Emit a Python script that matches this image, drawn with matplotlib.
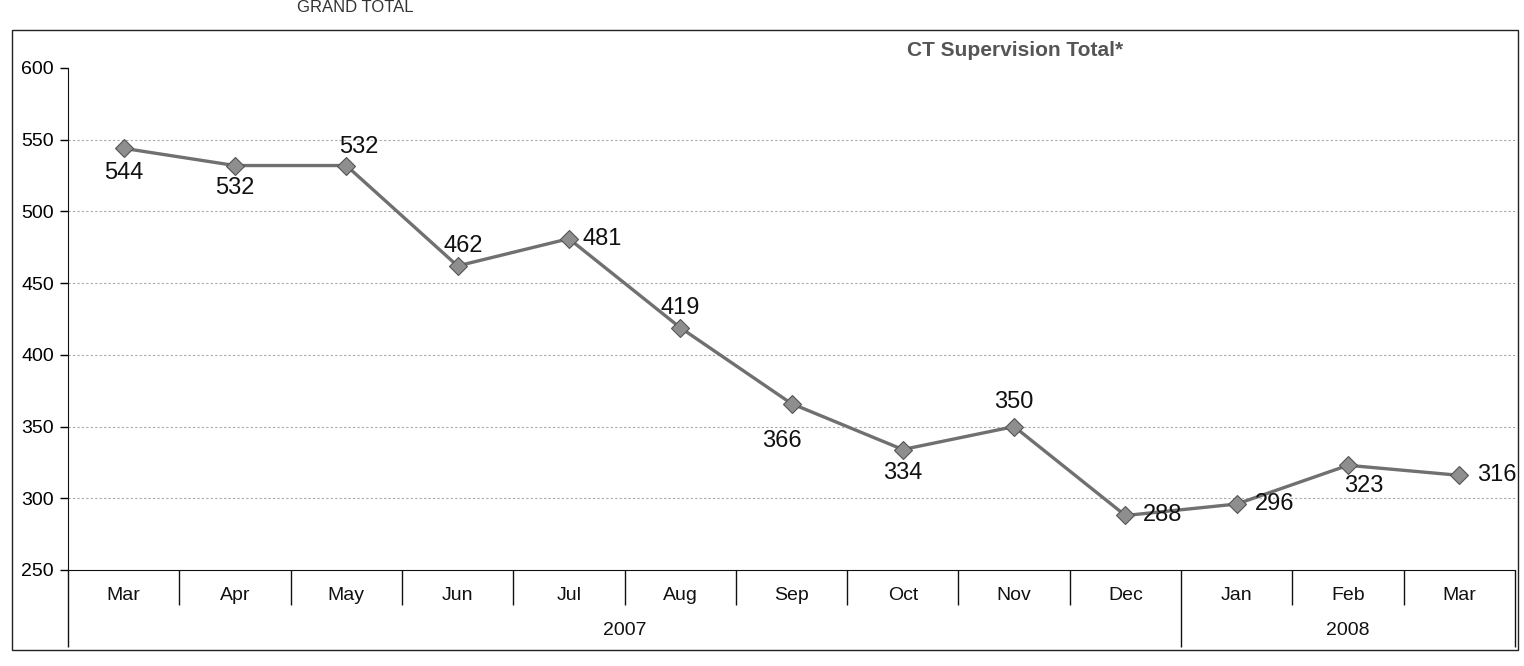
"""CT Supervision Total* -- monthly line chart, Mar 2007 to Mar 2008 (Excel-style two-level axis)."""

import matplotlib
matplotlib.use("Agg")
import matplotlib.pyplot as plt
from matplotlib.patches import Rectangle

plt.rcParams["font.family"] = ["Liberation Sans", "DejaVu Sans"]

# data
months = ["Mar", "Apr", "May", "Jun", "Jul", "Aug", "Sep", "Oct", "Nov", "Dec", "Jan", "Feb", "Mar"]
years = ["2007"] * 10 + ["2008"] * 3
totals = [544, 532, 532, 462, 481, 419, 366, 334, 350, 288, 296, 323, 316]
y_ticks = [250, 300, 350, 400, 450, 500, 550, 600]

# label offsets (points) so the numbers sit where the original put them
label_off = [(0, -18), (0, -16), (9, 13), (4, 14), (24, 0), (0, 14), (-7, -27),
             (0, -17), (0, 18), (27, 0), (27, 0), (11, -15), (27, 0)]

W, H = 1524, 666
fig = plt.figure(figsize=(W / 100, H / 100), dpi=100)
fig.patch.set_facecolor("white")

# outer chart border
fig.add_artist(Rectangle((12 / W, 1 - 650 / H), (1518 - 12) / W, (650 - 30) / H,
                         transform=fig.transFigure, fill=False, lw=1.0, ec="#222222"))
# page heading, cut off at the top of the scan in the original
fig.text(355 / W, 1.0, "GRAND TOTAL", ha="center", va="top", fontsize=12, color="#333333")

left, right, top, bottom = 68, 1515, 68, 570
ax = fig.add_axes([left / W, 1 - bottom / H, (right - left) / W, (bottom - top) / H])

x = list(range(len(months)))
ax.plot(x, totals, color="#707070", lw=2.4, marker="D", ms=9,
        mfc="#8e8e8e", mec="#555555", mew=0.8, zorder=3)
for xi, v, (dx, dy) in zip(x, totals, label_off):
    ax.annotate(str(v), (xi, v), xytext=(dx, dy), textcoords="offset points",
                ha="center", va="center", fontsize=17, color="#111111")

ax.set_xlim(-0.5, len(months) - 0.5)
ax.set_ylim(250, 600)
ax.set_yticks(y_ticks)
ax.tick_params(axis="y", labelsize=14, length=6, width=1, direction="out", pad=4)
for yt in y_ticks[1:-1]:
    ax.axhline(yt, color="#a8a8a8", lw=0.8, ls=(0, (2, 2)), zorder=1)

for s in ["top", "right"]:
    ax.spines[s].set_visible(False)
ax.spines["left"].set_color("#111111")
ax.spines["bottom"].set_color("#111111")

# two-level category axis drawn below the plot area
ax.set_xticks([])
trans = ax.get_xaxis_transform()
for xi, m in zip(x, months):
    ax.text(xi, -0.05, m, transform=trans, ha="center", va="center", fontsize=14, color="#111111")
year_names = sorted(set(years))
for yname in year_names:
    idx = [i for i, yv in enumerate(years) if yv == yname]
    ax.text(sum(idx) / len(idx), -0.12, yname, transform=trans, ha="center", va="center",
            fontsize=14, color="#111111")
for k in range(len(months) - 1):
    long_sep = years[k] != years[k + 1]
    ax.vlines(k + 0.5, -0.153 if long_sep else -0.07, 0, transform=trans,
              color="#111111", lw=1.0, clip_on=False)
for edge in (-0.5, len(months) - 0.5):
    ax.vlines(edge, -0.153, 0, transform=trans, color="#111111", lw=1.0, clip_on=False)

fig.text(1015 / W, 1 - 50 / H, "CT Supervision Total*", ha="center", va="center",
         fontsize=15, fontweight="bold", color="#555555")

fig.savefig("out.png", dpi=100)
